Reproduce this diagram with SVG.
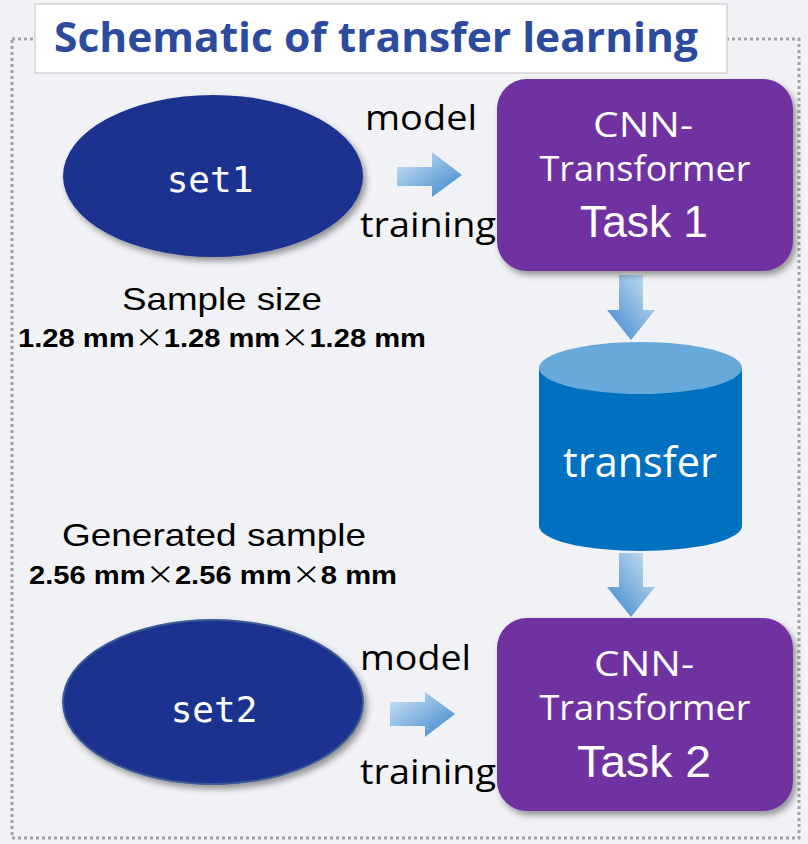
<svg xmlns="http://www.w3.org/2000/svg" width="808" height="844" viewBox="0 0 808 844">
  <defs>
    <style>
      .lbl { font-family: "Open Sans", "Noto Sans", sans-serif; fill: #000; font-size: 34px; }
      .box { fill: #7030a0; }
      .boxtxt { font-family: "Open Sans", "Noto Sans", sans-serif; fill: #fff; font-size: 34px; text-anchor: middle; }
      .task { font-family: "Liberation Sans", Arial, sans-serif; fill: #fff; font-size: 45px; text-anchor: middle; }
      .set { fill: #1f3091; }
      .settxt { font-family: "DejaVu Sans Mono", monospace; fill: #fff; font-size: 36px; text-anchor: middle; }
      .note { font-family: "Liberation Sans", Arial, sans-serif; fill: #000; font-size: 32px; }
      .dim { font-family: "Liberation Sans", Arial, sans-serif; fill: #000; font-size: 26px; font-weight: bold; }
      .x { font-family: "Noto Sans CJK SC", sans-serif; font-weight: normal; }
    </style>
    <filter id="shadow" x="-10%" y="-10%" width="125%" height="130%">
      <feDropShadow dx="3" dy="4" stdDeviation="3" flood-color="#000" flood-opacity="0.4"/>
    </filter>
    <linearGradient id="arrowR" x1="0" y1="0" x2="1" y2="1">
      <stop offset="0" stop-color="#d4e6f6"/>
      <stop offset="1" stop-color="#3684cc"/>
    </linearGradient>
    <linearGradient id="arrowD" x1="1" y1="0" x2="0" y2="1">
      <stop offset="0" stop-color="#cfe3f5"/>
      <stop offset="1" stop-color="#3a86cc"/>
    </linearGradient>
  </defs>

  <!-- page background and dotted frame -->
  <rect x="0" y="0" width="808" height="844" fill="#f1f2f5"/>
  <rect x="12" y="39" width="787" height="799" fill="none" stroke="#a3a3a3" stroke-width="3" stroke-dasharray="3 3"/>

  <!-- title -->
  <g id="title">
    <rect x="35" y="4" width="692" height="69" fill="#ffffff" stroke="#d4d4d4" stroke-width="1.5"/>
    <text x="54" y="52" font-family="'Open Sans', 'Noto Sans', sans-serif" font-weight="bold" font-size="42" fill="#2c4a9e" textLength="644" lengthAdjust="spacingAndGlyphs">Schematic of transfer learning</text>
  </g>

  <!-- connectors -->
  <g id="connectors">
    <polygon points="397,167 432,167 432,152 462,175 432,197 432,186 397,186" fill="url(#arrowR)"/>
    <polygon points="390,702 425,702 425,692 455,714 425,737 425,726 390,726" fill="url(#arrowR)"/>
    <polygon points="619,275 643,275 643,310 655,310 631,340 607,310 619,310" fill="url(#arrowD)"/>
    <polygon points="619,553 643,553 643,587 655,587 631,617 607,587 619,587" fill="url(#arrowD)"/>
  </g>

  <!-- dataset 1 -->
  <g id="set1">
    <ellipse class="set" cx="213" cy="176" rx="150" ry="81" filter="url(#shadow)"/>
    <text class="settxt" x="210" y="192">set1</text>
  </g>

  <!-- dataset 2 -->
  <g id="set2">
    <ellipse class="set" cx="213" cy="702" rx="150" ry="82" stroke="#3a5a95" stroke-width="2" filter="url(#shadow)"/>
    <text class="settxt" x="214" y="722">set2</text>
  </g>

  <!-- training labels -->
  <g id="labels">
    <text class="lbl" x="365" y="130" textLength="112" lengthAdjust="spacingAndGlyphs">model</text>
    <text class="lbl" x="360" y="237" textLength="136" lengthAdjust="spacingAndGlyphs">training</text>
    <text class="lbl" x="360" y="670" textLength="111" lengthAdjust="spacingAndGlyphs">model</text>
    <text class="lbl" x="360" y="784" textLength="136" lengthAdjust="spacingAndGlyphs">training</text>
  </g>

  <!-- sample size notes -->
  <g id="notes">
    <text class="note" x="122" y="310" textLength="200" lengthAdjust="spacingAndGlyphs">Sample size</text>
    <text class="dim" x="18" y="347" textLength="408" lengthAdjust="spacingAndGlyphs">1.28 mm<tspan class="x">×</tspan>1.28 mm<tspan class="x">×</tspan>1.28 mm</text>
    <text class="note" x="62" y="546" textLength="304" lengthAdjust="spacingAndGlyphs">Generated sample</text>
    <text class="dim" x="29" y="584" textLength="368" lengthAdjust="spacingAndGlyphs">2.56 mm<tspan class="x">×</tspan>2.56 mm<tspan class="x">×</tspan>8 mm</text>
  </g>

  <!-- task 1 model -->
  <g id="task1">
    <rect class="box" x="497" y="79" width="296" height="192" rx="30" filter="url(#shadow)"/>
    <text class="boxtxt" x="643" y="137" textLength="100" lengthAdjust="spacingAndGlyphs">CNN-</text>
    <text class="boxtxt" x="645" y="181" textLength="211" lengthAdjust="spacingAndGlyphs">Transformer</text>
    <text class="task" x="644" y="237" textLength="128" lengthAdjust="spacingAndGlyphs">Task 1</text>
  </g>

  <!-- transfer store -->
  <g id="transfer">
    <path d="M539,368 L539,526 A101.5,25 0 0 0 742,526 L742,368 Z" fill="#0070c0"/>
    <ellipse cx="640.5" cy="368" rx="101.5" ry="26" fill="#67a9da"/>
    <text x="640" y="477" font-family="'Open Sans', 'Noto Sans', sans-serif" font-size="42" fill="#fff" text-anchor="middle" textLength="154" lengthAdjust="spacingAndGlyphs">transfer</text>
  </g>

  <!-- task 2 model -->
  <g id="task2">
    <rect class="box" x="497" y="618" width="296" height="193" rx="30" filter="url(#shadow)"/>
    <text class="boxtxt" x="644" y="676" textLength="100" lengthAdjust="spacingAndGlyphs">CNN-</text>
    <text class="boxtxt" x="645" y="720" textLength="211" lengthAdjust="spacingAndGlyphs">Transformer</text>
    <text class="task" x="644" y="777" textLength="134" lengthAdjust="spacingAndGlyphs">Task 2</text>
  </g>
</svg>
